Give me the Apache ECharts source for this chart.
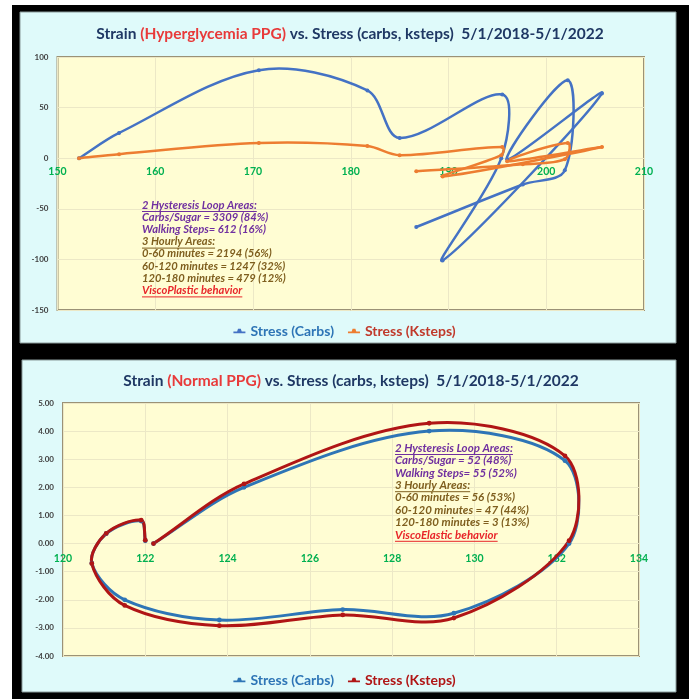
<!DOCTYPE html>
<html>
<head>
<meta charset="utf-8">
<title>Strain vs Stress</title>
<script src="https://cdn.jsdelivr.net/npm/echarts@6/dist/echarts.min.js"></script>
<style>
  html, body { margin: 0; padding: 0; background: #fff; }
  #chart { width: 689px; height: 699px; }
</style>
</head>
<body>
<div id="chart"></div>
<script>
// top chart: hyperglycemia PPG (x) vs stress (y)
const hyperX = [152.2, 156.3, 170.6, 181.7, 185.0, 195.5, 195.4, 189.4, 205.7, 196.0, 202.2, 201.9, 197.6, 186.7];
const hyperCarbs = [0, 25, 87, 67, 20, 63, 0, -101, 64, -1, 77, -12, -26, -68];
const hyperKsteps = [0, 4, 15, 12, 3, 11, 3, -18, 11, -3, 15, -1, -6, -13];
const hyperNotes = [
  "2 Hysteresis Loop Areas:",
  "Carbs/Sugar = 3309 (84%)",
  "Walking Steps= 612 (16%)",
  "3 Hourly Areas:",
  "0-60 minutes = 2194 (56%)",
  "60-120 minutes = 1247 (32%)",
  "120-180 minutes = 479 (12%)",
  "ViscoPlastic behavior"
];

// bottom chart: normal PPG (x) vs stress (y)
const normalX = [122.2, 124.4, 128.9, 132.2, 132.3, 129.5, 126.8, 123.8, 121.5, 120.7, 121.05, 121.9, 122.0];
const normalCarbs = [0.0, 2.0, 4.0, 2.95, 0.0, -2.48, -2.35, -2.72, -2.0, -0.7, 0.35, 0.8, 0.1];
const normalKsteps = [0.0, 2.12, 4.28, 3.12, 0.1, -2.65, -2.54, -2.92, -2.2, -0.71, 0.36, 0.83, 0.12];
const normalNotes = [
  "2 Hysteresis Loop Areas:",
  "Carbs/Sugar = 52 (48%)",
  "Walking Steps= 55 (52%)",
  "3 Hourly Areas:",
  "0-60 minutes = 56 (53%)",
  "60-120 minutes = 47 (44%)",
  "120-180 minutes = 3 (13%)",
  "ViscoElastic behavior"
];

const FONT = "Lato";
const noteColors = ["#7030a0", "#7030a0", "#7030a0", "#7f5f1f", "#7f5f1f", "#7f5f1f", "#7f5f1f", "#e8262a"];
const noteUnderline = [true, false, false, true, false, false, false, true];
const legendIcon = "path://M0,5 L4,5 L5,2 L8,2 L9,5 L13,5 L13,7 L0,7 Z";

const grids = [
  { left: 57.5, top: 57, width: 586.5, height: 253 },
  { left: 63, top: 403, width: 576, height: 253 }
];

function pairs(xs, ys) {
  return xs.map((x, i) => [x, ys[i]]);
}

// 量一下文字宽度, 用来画下划线
const measureCtx = document.createElement("canvas").getContext("2d");
function textWidth(str, font) {
  measureCtx.font = font;
  return measureCtx.measureText(str).width;
}

function noteGraphics(lines, x, y0, step, size) {
  const font = "italic bold " + size + "px " + FONT;
  const out = [];
  lines.forEach((line, i) => {
    const y = y0 + i * step;
    out.push({
      type: "text", z: 100, x: x, y: y,
      style: { text: line, font: font, fill: noteColors[i], verticalAlign: "middle", textVerticalAlign: "middle" }
    });
    if (noteUnderline[i]) {
      out.push({
        type: "line", z: 100,
        shape: { x1: x, y1: y + 6.5, x2: x + textWidth(line, font), y2: y + 6.5 },
        style: { stroke: noteColors[i], lineWidth: 1 }
      });
    }
  });
  return out;
}

function titleOf(redPart, left, top) {
  return {
    text: "{n|Strain }{r|" + redPart + "}{n| vs. Stress (carbs, ksteps)  5/1/2018-5/1/2022}",
    left: left, top: top, textAlign: "center",
    textStyle: {
      rich: {
        n: { fontFamily: FONT, fontWeight: "bold", fontSize: 15.5, color: "#1f3864" },
        r: { fontFamily: FONT, fontWeight: "bold", fontSize: 15.5, color: "#e83a3a" }
      }
    }
  };
}

// x 轴放在 y=0 那条线上 (用 offset 往上挪)
function xAxisOf(gridIndex, min, max, interval, margin, yMin, yMax) {
  const offset = -grids[gridIndex].height * (0 - yMin) / (yMax - yMin);
  return {
    type: "value", gridIndex: gridIndex, min: min, max: max, interval: interval,
    position: "bottom", offset: offset,
    axisLine: { show: false, onZero: false },
    axisTick: { show: false },
    axisLabel: { color: "#00b050", fontFamily: FONT, fontWeight: "bold", fontSize: 10.5, margin: margin },
    splitLine: { show: true, lineStyle: { color: "#ece8c6", width: 1 } }
  };
}

function yAxisOf(gridIndex, min, max, interval, fmt) {
  return {
    type: "value", gridIndex: gridIndex, min: min, max: max, interval: interval,
    axisLine: { show: false }, axisTick: { show: false },
    axisLabel: { color: "#404040", fontFamily: FONT, fontWeight: "bold", fontSize: 8, margin: 9, formatter: fmt },
    splitLine: { show: true, lineStyle: { color: "#ece8c6", width: 1 } }
  };
}

// 平滑散点线: 每段一条三次贝塞尔, 切线 = 后点 - 前点, 按两侧段长分配
function splineSeries(name, idx, xs, ys, color, width) {
  const n = xs.length;
  const at = k => Math.max(0, Math.min(n - 1, k));
  const dist = (a, b) => Math.hypot(a[0] - b[0], a[1] - b[1]);
  return {
    type: "custom", name: name, coordinateSystem: "cartesian2d",
    xAxisIndex: idx, yAxisIndex: idx,
    data: pairs(xs, ys), encode: { x: 0, y: 1 }, clip: true,
    itemStyle: { color: color },
    renderItem: function (params, api) {
      const i = params.dataIndex;
      const p = k => api.coord([xs[at(k)], ys[at(k)]]);
      const p1 = p(i);
      const children = [];
      if (i < n - 1) {
        const p0 = p(i - 1), p2 = p(i + 1), p3 = p(i + 2);
        const d01 = dist(p0, p1), d12 = dist(p1, p2), d23 = dist(p2, p3);
        const f1 = d01 + d12 > 0 ? d12 / (d01 + d12) / 3 : 0;
        const f2 = d12 + d23 > 0 ? d12 / (d12 + d23) / 3 : 0;
        children.push({
          type: "bezierCurve",
          shape: {
            x1: p1[0], y1: p1[1], x2: p2[0], y2: p2[1],
            cpx1: p1[0] + (p2[0] - p0[0]) * f1, cpy1: p1[1] + (p2[1] - p0[1]) * f1,
            cpx2: p2[0] - (p3[0] - p1[0]) * f2, cpy2: p2[1] - (p3[1] - p1[1]) * f2
          },
          style: { stroke: color, lineWidth: width, fill: null, lineCap: "round" }
        });
      }
      children.push({
        type: "circle", z2: 2,
        shape: { cx: p1[0], cy: p1[1], r: width * 0.8 },
        style: { fill: color }
      });
      return { type: "group", children: children };
    }
  };
}

const chart = echarts.init(document.getElementById("chart"));
chart.setOption({
  animation: false,
  title: [
    titleOf("(Hyperglycemia PPG)", 345, 21),
    titleOf("(Normal PPG)", 346, 368)
  ],
  legend: [
    {
      top: 319, left: "center", itemGap: 14, itemWidth: 12, itemHeight: 6,
      textStyle: { fontFamily: FONT, fontWeight: "bold", fontSize: 14 },
      data: [
        { name: "Stress (Carbs)", icon: legendIcon, itemStyle: { color: "#4472c4" }, textStyle: { color: "#2e75b6" } },
        { name: "Stress (Ksteps)", icon: legendIcon, itemStyle: { color: "#ed7d31" }, textStyle: { color: "#c0392b" } }
      ]
    },
    {
      top: 668, left: "center", itemGap: 14, itemWidth: 12, itemHeight: 6,
      textStyle: { fontFamily: FONT, fontWeight: "bold", fontSize: 14 },
      data: [
        { name: "Stress (Carbs)", icon: legendIcon, itemStyle: { color: "#2e75b6" }, textStyle: { color: "#2e75b6" } },
        { name: "Stress (Ksteps)", icon: legendIcon, itemStyle: { color: "#b01515" }, textStyle: { color: "#b01515" } }
      ]
    }
  ],
  grid: grids.map(g => Object.assign({
    show: true, backgroundColor: "#fffdd3", borderColor: "#9b9276", borderWidth: 2
  }, g)),
  xAxis: [
    xAxisOf(0, 150, 210, 10, 8, -150, 100),
    xAxisOf(1, 120, 134, 2, 10, -4, 5)
  ],
  yAxis: [
    yAxisOf(0, -150, 100, 50),
    yAxisOf(1, -4, 5, 1, v => v.toFixed(2))
  ],
  series: [
    splineSeries("Stress (Carbs)", 0, hyperX, hyperCarbs, "#4472c4", 2.5),
    splineSeries("Stress (Ksteps)", 0, hyperX, hyperKsteps, "#ed7d31", 2.5),
    splineSeries("Stress (Carbs)", 1, normalX, normalCarbs, "#2e75b6", 3),
    splineSeries("Stress (Ksteps)", 1, normalX, normalKsteps, "#b01515", 3)
  ],
  graphic: [
    { type: "rect", z: -10, shape: { x: 12, y: 5, width: 677, height: 694 }, style: { fill: "#000" } },
    { type: "rect", z: -9, shape: { x: 20, y: 12, width: 656, height: 331 }, style: { fill: "#dffafa", stroke: "#8a9a9a", lineWidth: 1 } },
    { type: "rect", z: -9, shape: { x: 22, y: 360, width: 654, height: 332 }, style: { fill: "#dffafa", stroke: "#8a9a9a", lineWidth: 1 } }
  ].concat(noteGraphics(hyperNotes, 142, 205, 12.2, 11.2), noteGraphics(normalNotes, 395, 448, 12.4, 11.5))
});
</script>
</body>
</html>
